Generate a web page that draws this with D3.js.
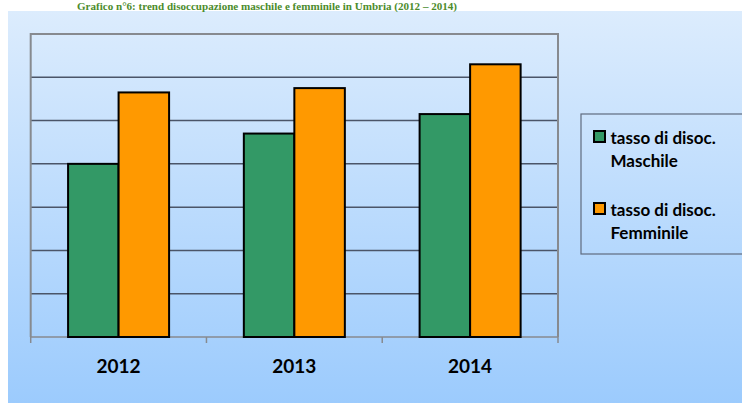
<!DOCTYPE html>
<html>
<head>
    <title>Disoccupazione Umbria</title>
    <style>
        body { margin: 0; background: #fff; }
        svg { display: block; }
        .year { font-family: Lato, sans-serif; font-weight: bold; font-size: 19px; fill: #000; text-anchor: middle; }
        .leg { font-family: Lato, sans-serif; font-weight: bold; font-size: 17px; fill: #000; }
    </style>
</head>
<body>
    <div id="chart"></div>
    <script src="https://cdnjs.cloudflare.com/ajax/libs/d3/7.8.5/d3.min.js"></script>
    <script>
        // data (no y labels shown, scale 0-14)
        const years = ['2012', '2013', '2014'];
        const series = ['Maschile', 'Femminile'];
        const maschile = [8.0, 9.4, 10.3];
        const femminile = [11.3, 11.5, 12.6];
        const yTicks = [0, 2, 4, 6, 8, 10, 12, 14];
        const colors = ['#339966', '#ff9900'];

        const W = 742, H = 403;
        const svg = d3.select('#chart').append('svg')
            .attr('width', W).attr('height', H);

        const defs = svg.append('defs');
        const grad = defs.append('linearGradient')
            .attr('id', 'bg').attr('x1', 0).attr('y1', 0).attr('x2', 0).attr('y2', 1);
        grad.append('stop').attr('offset', '0%').attr('stop-color', '#dcecfd');
        grad.append('stop').attr('offset', '100%').attr('stop-color', '#9ccbfd');

        // background
        svg.append('rect').attr('x', 8).attr('y', 11).attr('width', W - 8).attr('height', H - 11)
            .attr('fill', 'url(#bg)');

        // title, squeezed into the strip above the chart
        svg.append('text')
            .attr('x', 267).attr('y', 9.5)
            .attr('text-anchor', 'middle')
            .attr('textLength', 380).attr('lengthAdjust', 'spacingAndGlyphs')
            .style('font-family', '"Liberation Serif", serif')
            .style('font-weight', 'bold').style('font-size', '11px')
            .style('fill', '#4c8c2c')
            .text('Grafico n°6: trend disoccupazione maschile e femminile in Umbria (2012 – 2014)');

        const plot = { left: 30.7, right: 558, top: 34, bottom: 337 };

        const y = d3.scaleLinear().domain([0, 14]).range([plot.bottom, plot.top]);
        const x0 = d3.scaleBand().domain(years).range([plot.left, plot.right]).padding(0);
        const x1 = d3.scaleBand().domain(series).range([0, x0.bandwidth()])
            .paddingInner(0).paddingOuter(0.74);

        // gridlines
        svg.append('g').selectAll('line')
            .data(yTicks.filter(d => d > 0 && d < 14))
            .join('line')
            .attr('x1', plot.left).attr('x2', plot.right)
            .attr('y1', d => y(d)).attr('y2', d => y(d))
            .attr('stroke', '#4b5568').attr('stroke-width', 1.5);

        // frame
        svg.append('path')
            .attr('d', `M${plot.left},${plot.bottom}V${plot.top}H${plot.right}V${plot.bottom}`)
            .attr('fill', 'none').attr('stroke', '#878a8f').attr('stroke-width', 2);

        // x axis
        const xAxis = svg.append('g').attr('transform', `translate(0,${plot.bottom})`);
        xAxis.append('line').attr('x1', plot.left).attr('x2', plot.right)
            .attr('stroke', '#878a8f').attr('stroke-width', 1.5);
        xAxis.selectAll('.tk')
            .data(years.map(d => x0(d)).concat([plot.right]))
            .join('line')
            .attr('x1', d => d).attr('x2', d => d).attr('y1', 0).attr('y2', 6)
            .attr('stroke', '#878a8f').attr('stroke-width', 1.5);
        xAxis.selectAll('.year')
            .data(years)
            .join('text')
            .attr('class', 'year')
            .attr('x', d => x0(d) + x0.bandwidth() / 2)
            .attr('y', 36)
            .text(d => d);

        // bars
        const rows = years.map((yr, i) => ({ yr, vals: [maschile[i], femminile[i]] }));
        const groups = svg.append('g').selectAll('g')
            .data(rows).join('g')
            .attr('transform', d => `translate(${x0(d.yr)},0)`);
        groups.selectAll('rect')
            .data(d => d.vals.map((v, j) => ({ s: series[j], v, c: colors[j] })))
            .join('rect')
            .attr('x', d => x1(d.s))
            .attr('width', x1.bandwidth())
            .attr('y', d => y(d.v))
            .attr('height', d => plot.bottom - y(d.v))
            .attr('fill', d => d.c)
            .attr('stroke', '#000').attr('stroke-width', 2);

        // legend
        const leg = svg.append('g');
        leg.append('rect').attr('x', 581).attr('y', 114).attr('width', 170).attr('height', 140)
            .attr('fill', 'none').attr('stroke', '#5f6b7f').attr('stroke-width', 1.2);
        const legLabels = [['tasso di disoc.', 'Maschile'], ['tasso di disoc.', 'Femminile']];
        legLabels.forEach((lines, i) => {
            const top = 131 + i * 72;
            leg.append('rect').attr('x', 594).attr('y', top).attr('width', 11).attr('height', 11)
                .attr('fill', colors[i]).attr('stroke', '#000').attr('stroke-width', 2);
            leg.append('text').attr('class', 'leg').attr('x', 610.5).attr('y', top + 12.5).text(lines[0]);
            leg.append('text').attr('class', 'leg').attr('x', 610.5).attr('y', top + 35.5).text(lines[1]);
        });
    </script>
</body>
</html>
